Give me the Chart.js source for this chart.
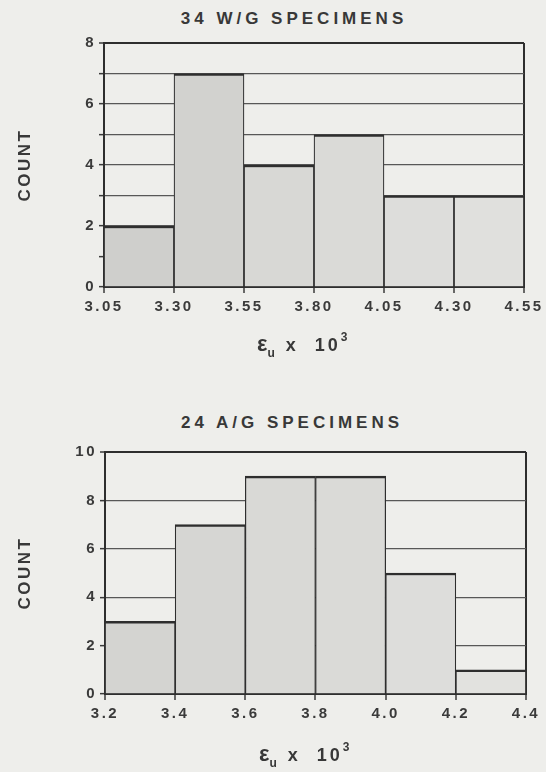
<!DOCTYPE html>
<html>
<head>
<meta charset="utf-8">
<script src="https://cdn.jsdelivr.net/npm/chart.js@4/dist/chart.umd.min.js"></script>
<style>
  body { margin: 0; background: #eeeeeb; }
  #page { position: relative; width: 546px; height: 772px; overflow: hidden; }
  canvas { position: absolute; left: 0; }
  .ttl, .xlab {
    position: absolute;
    font-family: "Liberation Sans", Arial, sans-serif;
    font-weight: bold;
    color: #383838;
    white-space: nowrap;
  }
  .ttl { font-size: 17px; letter-spacing: 4px; transform: translateX(-50%); }
  .xlab { font-size: 18px; letter-spacing: 3px; }
  .xlab .eps { font-size: 22px; letter-spacing: 0; }
  .xlab sub { font-size: 12px; vertical-align: -6px; }
  .xlab sup { font-size: 12px; vertical-align: 10px; }
</style>
</head>
<body>
<div id="page">
  <div class="ttl" style="left:294px; top:9px;">34 W/G SPECIMENS</div>
  <canvas id="wgChart" width="546" height="380" style="top:0"></canvas>
  <div class="xlab" style="left:257px; top:330px;"><span class="eps">&epsilon;</span><sub>u</sub>&nbsp;x &nbsp;10<sup>3</sup></div>

  <div class="ttl" style="left:292px; top:413px;">24 A/G SPECIMENS</div>
  <canvas id="agChart" width="546" height="392" style="top:380px"></canvas>
  <div class="xlab" style="left:259px; top:740px;"><span class="eps">&epsilon;</span><sub>u</sub>&nbsp;x &nbsp;10<sup>3</sup></div>
</div>

<script>
// bin edges, tick labels and counts for the two histograms

var wgEdges = [3.05, 3.30, 3.55, 3.80, 4.05, 4.30, 4.55];
var wgTickLabels = ['3.05', '3.30', '3.55', '3.80', '4.05', '4.30', '4.55'];
var wgCounts = [2, 7, 4, 5, 3, 3];
var wgFill = ['#cfcfcc', '#d2d2cf', '#d8d8d5', '#dadad7', '#dddddb', '#e0e0dd'];

var agEdges = [3.2, 3.4, 3.6, 3.8, 4.0, 4.2, 4.4];
var agTickLabels = ['3.2', '3.4', '3.6', '3.8', '4.0', '4.2', '4.4'];
var agCounts = [3, 7, 9, 9, 5, 1];
var agFill = ['#d4d4d1', '#d6d6d3', '#d9d9d6', '#dadad7', '#dddddb', '#e2e2df'];

var FONT = "'Liberation Sans', Arial, sans-serif";
var INK = '#2e2e2e';

// wide tracking on all canvas text
var tracking = {
	id: 'tracking',
	beforeUpdate: function (chart) { chart.ctx.letterSpacing = '2.5px'; },
	beforeDraw: function (chart) { chart.ctx.letterSpacing = '2.5px'; }
};

function histogram(canvasId, edges, tickLabels, counts, fills, yMax, yStep, area) {
	// one bar per bin, centred between its edges
	var points = counts.map(function (c, i) {
		return { x: (edges[i] + edges[i + 1]) / 2, y: c };
	});
	var last = edges.length - 1;

	return new Chart(document.getElementById(canvasId), {
		type: 'bar',
		data: {
			datasets: [{
				data: points,
				backgroundColor: fills,
				borderColor: INK,
				borderWidth: { top: 2.5, left: 1.2, right: 1.2, bottom: 0 },
				borderSkipped: false,
				barPercentage: 1,
				categoryPercentage: 1
			}]
		},
		options: {
			responsive: false,
			animation: false,
			layout: {
				padding: { top: area.top, right: area.right, bottom: 0, left: 0 }
			},
			plugins: {
				legend: { display: false },
				tooltip: { enabled: false }
			},
			scales: {
				x: {
					type: 'linear',
					offset: false,
					min: edges[0],
					max: edges[last],
					afterBuildTicks: function (scale) {
						scale.ticks = edges.map(function (v) { return { value: v }; });
					},
					afterFit: function (scale) {
						scale.height = area.xHeight;
						scale.paddingLeft = 0;
						scale.paddingRight = 0;
					},
					ticks: {
						maxRotation: 0,
						autoSkip: false,
						padding: 5,
						color: '#3a3a3a',
						font: { family: FONT, size: 15, weight: 'bold' },
						callback: function (value, index) { return tickLabels[index]; }
					},
					grid: {
						offset: false,
						color: function (ctx) { return ctx.index === last ? INK : 'rgba(0,0,0,0)'; },
						lineWidth: 2,
						tickColor: '#3a3a3a',
						tickLength: 6,
						tickWidth: 1.5
					},
					border: { display: true, color: INK, width: 2 }
				},
				y: {
					min: 0,
					max: yMax,
					afterFit: function (scale) {
						scale.width = area.yWidth;
						scale.paddingTop = 0;
						scale.paddingBottom = 0;
					},
					ticks: {
						stepSize: yStep,
						padding: 3,
						color: '#3a3a3a',
						font: { family: FONT, size: 15, weight: 'bold' },
						callback: function (value) { return value % 2 === 0 ? value : ''; }
					},
					grid: {
						color: function (ctx) { return ctx.tick && ctx.tick.value === yMax ? INK : '#575757'; },
						lineWidth: function (ctx) { return ctx.tick && ctx.tick.value === yMax ? 2 : 1.3; },
						tickColor: '#3a3a3a',
						tickLength: 5,
						tickWidth: 1.5
					},
					border: { display: true, color: INK, width: 2 },
					title: {
						display: true,
						text: 'COUNT',
						color: '#383838',
						font: { family: FONT, size: 17, weight: 'bold' },
						padding: { top: 15, bottom: 0 }
					}
				}
			}
		},
		plugins: [tracking]
	});
}

histogram('wgChart', wgEdges, wgTickLabels, wgCounts, wgFill, 8, 1,
	{ top: 43, right: 22, xHeight: 93, yWidth: 104 });

histogram('agChart', agEdges, agTickLabels, agCounts, agFill, 10, 2,
	{ top: 72, right: 20, xHeight: 78, yWidth: 105 });
</script>
</body>
</html>
